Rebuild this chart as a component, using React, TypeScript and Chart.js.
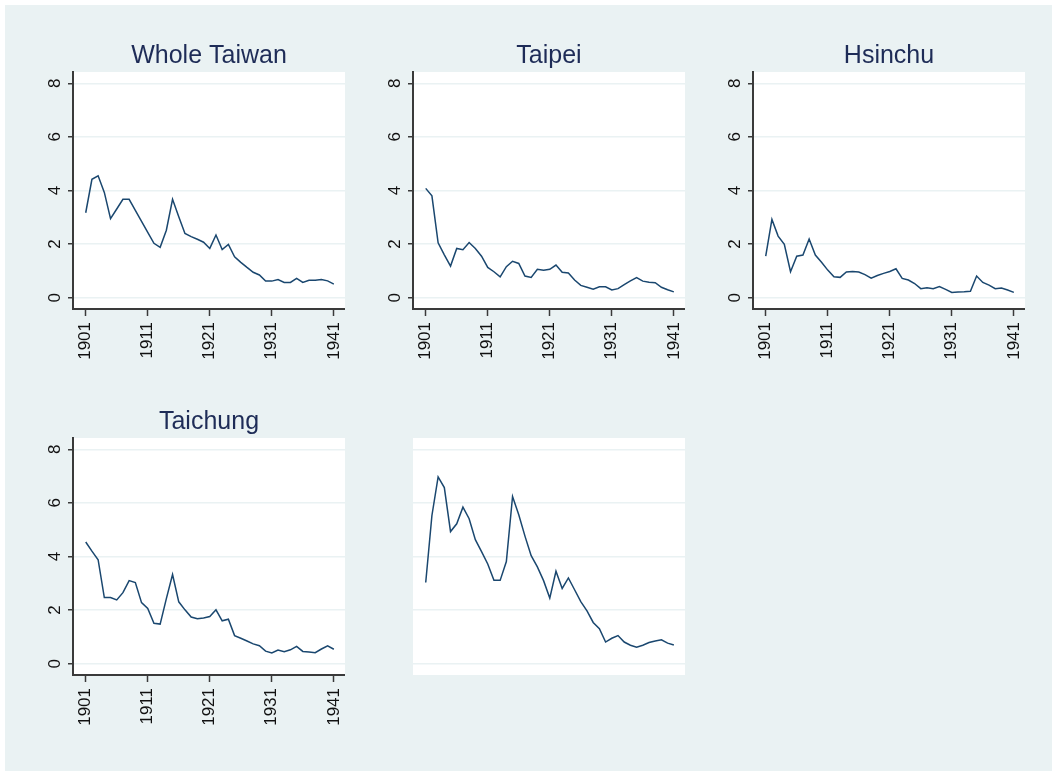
import React, { useEffect, useRef } from "react";
import { Chart, registerables } from "chart.js";

Chart.register(...registerables);

const years: number[] = Array.from({ length: 41 }, (_, i) => 1901 + i);

const xTicks = [1901, 1911, 1921, 1931, 1941];
const yTicks = [0, 2, 4, 6, 8];

const wholeTaiwan = [
  3.17, 4.42, 4.55, 3.93, 2.95, 3.31, 3.67, 3.67, 3.26, 2.85, 2.44, 2.03, 1.88, 2.52,
  3.67, 3.02, 2.4, 2.28, 2.18, 2.07, 1.84, 2.34, 1.8, 1.99, 1.53, 1.32, 1.13, 0.95,
  0.85, 0.62, 0.62, 0.68, 0.57, 0.57, 0.72, 0.57, 0.65, 0.65, 0.68, 0.63, 0.51,
];

const taipei = [
  4.08, 3.8, 2.05, 1.6, 1.18, 1.84, 1.79, 2.06, 1.84, 1.55, 1.13, 0.97, 0.78, 1.16,
  1.36, 1.28, 0.81, 0.76, 1.06, 1.03, 1.06, 1.22, 0.95, 0.92, 0.66, 0.46, 0.39, 0.32,
  0.41, 0.41, 0.29, 0.34, 0.49, 0.63, 0.75, 0.62, 0.58, 0.56, 0.39, 0.3, 0.22,
];

const hsinchu = [
  1.55, 2.92, 2.3, 1.99, 0.97, 1.55, 1.59, 2.19, 1.59, 1.32, 1.03, 0.78, 0.76, 0.96,
  0.98, 0.96, 0.86, 0.73, 0.83, 0.91, 0.98, 1.08, 0.72, 0.66, 0.53, 0.34, 0.37, 0.34,
  0.42, 0.31, 0.2, 0.21, 0.22, 0.24, 0.81, 0.57, 0.47, 0.34, 0.36, 0.29, 0.2,
];

const taichung = [
  4.54, 4.2, 3.88, 2.47, 2.47, 2.38, 2.65, 3.1, 3.03, 2.28, 2.06, 1.51, 1.48, 2.43,
  3.33, 2.31, 2.01, 1.74, 1.68, 1.71, 1.76, 2.01, 1.6, 1.66, 1.05, 0.95, 0.85, 0.74,
  0.67, 0.47, 0.4, 0.51, 0.45, 0.52, 0.65, 0.46, 0.44, 0.41, 0.55, 0.67, 0.54,
];

const fifthPanel = [
  3.03, 5.53, 6.97, 6.57, 4.93, 5.22, 5.84, 5.41, 4.63, 4.18, 3.72, 3.11, 3.11, 3.81,
  6.24, 5.56, 4.76, 4.03, 3.61, 3.1, 2.45, 3.45, 2.81, 3.2, 2.76, 2.32, 1.97, 1.54,
  1.31, 0.81, 0.95, 1.05, 0.81, 0.69, 0.62, 0.69, 0.79, 0.85, 0.89, 0.77, 0.7,
];

const panelTitles = ["Whole Taiwan", "Taipei", "Hsinchu", "Taichung", ""];
const panelSeries = [wholeTaiwan, taipei, hsinchu, taichung, fifthPanel];
const panelAxes = [true, true, true, true, false];

const FONT = '"Liberation Sans", Arial, Helvetica, sans-serif';
const BG = "#eaf2f3";
const LINE = "#1a476f";
const AXIS = "#3a3a3a";
const TITLE = "#1e2c57";

const CANVAS_W = 340;
const CANVAS_H = 366;

function Panel({ title, values, axes, left, top }: { title: string; values: number[]; axes: boolean; left: number; top: number }) {
  const ref = useRef<HTMLCanvasElement | null>(null);
  useEffect(() => {
    if (!ref.current) return;
    const decor = {
      id: "decor",
      beforeDraw(chart: any) {
        const { ctx, chartArea } = chart;
        ctx.save();
        ctx.fillStyle = "#ffffff";
        ctx.fillRect(chartArea.left, chartArea.top, chartArea.right - chartArea.left, chartArea.bottom - chartArea.top);
        ctx.restore();
      },
      afterDraw(chart: any) {
        const { ctx, chartArea } = chart;
        ctx.save();
        if (title) {
          ctx.font = `25px ${FONT}`;
          ctx.fillStyle = TITLE;
          ctx.textAlign = "center";
          ctx.textBaseline = "alphabetic";
          ctx.fillText(title, (chartArea.left + chartArea.right) / 2, chartArea.top - 9);
        }
        if (axes) {
          const ys = chart.scales.y;
          ctx.font = `17px ${FONT}`;
          ctx.fillStyle = "#111111";
          for (const v of yTicks) {
            const py = ys.getPixelForValue(v);
            ctx.save();
            ctx.translate(chartArea.left - 13, py);
            ctx.rotate(-Math.PI / 2);
            ctx.textAlign = "center";
            ctx.textBaseline = "alphabetic";
            ctx.fillText(String(v), 0, 0);
            ctx.restore();
          }
        }
        ctx.restore();
      },
    };
    const chart = new Chart(ref.current, {
      type: "line",
      data: {
        datasets: [
          {
            data: years.map((yr, i) => ({ x: yr, y: values[i] })),
            borderColor: LINE,
            borderWidth: 1.5,
            pointRadius: 0,
            fill: false,
            tension: 0,
          },
        ],
      },
      options: {
        animation: false,
        responsive: false,
        maintainAspectRatio: false,
        layout: { padding: { top: 67, left: 0, right: 0, bottom: 0 } },
        plugins: { legend: { display: false }, tooltip: { enabled: false }, title: { display: false } },
        scales: {
          x: {
            type: "linear",
            min: 1898.95,
            max: 1942.8,
            afterBuildTicks: (s: any) => {
              s.ticks = xTicks.map((v) => ({ value: v }));
            },
            afterFit: (s: any) => {
              s.height = 62;
              s.paddingLeft = 0;
              s.paddingRight = 0;
              s.paddingTop = 0;
              s.paddingBottom = 0;
            },
            ticks: {
              display: axes,
              autoSkip: false,
              minRotation: 90,
              maxRotation: 90,
              padding: 6,
              color: "#111111",
              font: { family: FONT, size: 17 },
              callback: (v: any) => String(v),
            },
            grid: {
              display: axes,
              drawOnChartArea: false,
              drawTicks: true,
              tickLength: 7,
              tickColor: AXIS,
              tickWidth: 1.5,
            },
            border: { display: axes, color: AXIS, width: 2 },
          },
          y: {
            type: "linear",
            min: -0.42,
            max: 8.42,
            afterBuildTicks: (s: any) => {
              s.ticks = yTicks.map((v) => ({ value: v }));
            },
            afterFit: (s: any) => {
              s.width = 68;
              s.paddingLeft = 0;
              s.paddingRight = 0;
              s.paddingTop = 0;
              s.paddingBottom = 0;
            },
            ticks: { display: false },
            grid: {
              display: true,
              drawOnChartArea: true,
              color: BG,
              lineWidth: 1.5,
              drawTicks: axes,
              tickLength: 5,
              tickColor: AXIS,
              tickWidth: 1.5,
            },
            border: { display: axes, color: AXIS, width: 2 },
          },
        },
      },
      plugins: [decor],
    } as any);
    return () => chart.destroy();
  }, [title, values, axes]);
  return (
    <canvas
      ref={ref}
      width={CANVAS_W}
      height={CANVAS_H}
      style={{ position: "absolute", left, top, width: CANVAS_W, height: CANVAS_H }}
    />
  );
}

export default function App() {
  return (
    <div style={{ position: "absolute", left: 0, top: 0, width: 1052, height: 771, background: "#ffffff", overflow: "hidden" }}>
      <div style={{ position: "absolute", left: 5, top: 5, width: 1047, height: 766, background: BG }} />
      {panelSeries.map((vals, i) => (
        <Panel
          key={i}
          title={panelTitles[i]}
          values={vals}
          axes={panelAxes[i]}
          left={5 + 340 * (i % 3)}
          top={5 + 366 * Math.floor(i / 3)}
        />
      ))}
    </div>
  );
}
